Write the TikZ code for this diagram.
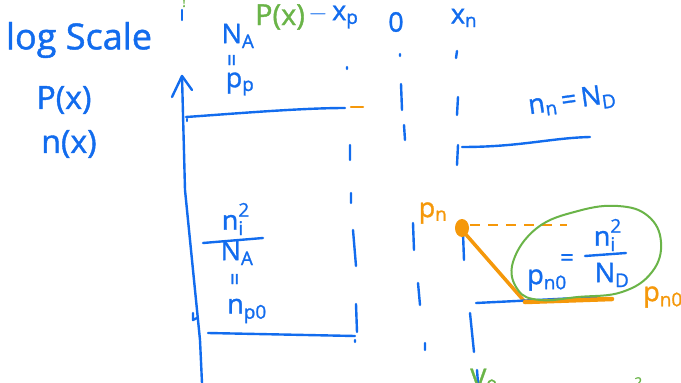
\documentclass[tikz,border=0pt]{standalone}
\usepackage{fontspec}
\setmainfont{Open Sans}[FakeBold=1.2, AutoFakeBold=1.2]
\usepackage{xcolor}
\usepackage{tikz}
\usetikzlibrary{positioning}
\definecolor{penblue}{RGB}{18,108,238}
\definecolor{penorange}{RGB}{245,152,10}
\definecolor{pengreen}{RGB}{106,180,72}
\tikzstyle{ink} = [draw=penblue, line width=2.4pt, line cap=round, line join=round]
\tikzstyle{orink} = [draw=penorange, line width=3.5pt, line cap=round]
\tikzstyle{greenink} = [draw=pengreen, line width=2pt, line cap=round]
\tikzstyle{bluetext} = [text=penblue, inner sep=0pt, font=\fontsize{27}{30}\bfseries]
\tikzstyle{orangetext} = [text=penorange, inner sep=0pt, font=\fontsize{27}{30}\bfseries]
\tikzstyle{greentext} = [text=pengreen, inner sep=0pt, font=\fontsize{27}{30}\bfseries]

\begin{document}
\begin{tikzpicture}[x=1pt, y=-1pt]
    \useasboundingbox (0,0) rectangle (681,383);
    \fill[white] (0,0) rectangle (681,383);

    % Left labels
    \node[bluetext, font=\fontsize{36}{40}\bfseries] (logscale) at (79,40) {log Scale};
    \node[bluetext, font=\fontsize{32}{36}\bfseries] (px) at (64,100) {P(x)};
    \node[bluetext, font=\fontsize{32}{36}\bfseries] (nx) at (69,144) {n(x)};

    % Top labels
    \node[greentext, font=\fontsize{14}{16}\bfseries] (topmark) at (184,2) {!};
    \node[bluetext] (na) at (238,36) {N\textsubscript{A}};
    \node[bluetext, rotate=90, font=\fontsize{22}{24}\bfseries] (eqtop) at (234,60) {=};
    \node[bluetext] (pp) at (240,84) {p\textsubscript{p}};
    \node[greentext, font=\fontsize{29}{32}\bfseries] (pofx) at (280,17) {P(x)};
    \node[bluetext, right=3pt of pofx] (xp) {$-$\,x\textsubscript{p}};
    \node[bluetext] (zero) at (396,22) {0};
    \node[bluetext] (xn) at (464,18) {x\textsubscript{n}};

    % Axis
    \draw[ink] (202,383) -- (200,340) -- (185,190) -- (182,76);
    \draw[ink] (172,97) -- (182,76) -- (192,90);
    \draw[ink] (182,10) -- (182,20);
    \draw[ink] (193,313) -- (193,320) -- (197,318);

    % p side level
    \draw[ink] (186,117) .. controls (230,114) and (300,108) .. (345,108);
    \draw[ink] (187,119) -- (187,121);
    \draw[ink] (208,333) -- (355,336);

    % Dashed guide lines
    \draw[ink] (347,67) -- (347,69) (350,145) -- (350,160) (351,193) -- (351,203)
        (353,230) -- (356,266) (356,304) -- (357,332) (355,340) -- (355,342);
    \draw[orink, line width=2.5pt] (351,107) -- (363,107);
    \draw[ink] (400,54) -- (400,56) (401,84) -- (402,110) (404,125) -- (405,140)
        (413,223) -- (414,250) (418,283) -- (420,305) (425,343) -- (425,350);
    \draw[ink] (457,51) -- (456,58) (458,97) -- (457,115) (458,145) -- (457,165)
        (463,233) -- (464,260) (470,313) -- (474,352) (477,370) -- (478,383);

    % n side level
    \draw[ink] (462,147) .. controls (520,147) and (550,138) .. (590,137);
    \node[bluetext, rotate=8] (nnnd) at (572,101) {n\textsubscript{n}\,=\,N\textsubscript{D}};

    % Minority carriers in p region
    \node[bluetext] (ni2a) at (235,219) {n\rlap{\raisebox{4pt}{\textsuperscript{2}}}\textsubscript{i}\,};
    \node[bluetext] (naa) at (237,253) {N\textsubscript{A}};
    \draw[ink] (203,243) -- (263,238);
    \node[bluetext, rotate=90, font=\fontsize{22}{24}\bfseries] (eqbot) at (237,279) {=};
    \node[bluetext] (np0) at (247,311) {n\textsubscript{p0}};

    % Minority carriers in n region
    \node[orangetext] (pnlabel) at (433,213) {p\textsubscript{n}};
    \fill[penorange] (462,228) ellipse (7 and 9);
    \draw[penorange, line width=2pt, dash pattern=on 10pt off 8pt] (470,225) -- (567,225);
    \draw[orink] (462,230) -- (525,302);
    \draw[ink] (476,303) -- (597,297);
    \draw[orink, line width=4.5pt] (525,302) -- (612,299);
    \node[orangetext] (pn0label) at (663,297) {p\textsubscript{n0}};

    % Highlighted relation
    \draw[greenink] plot[smooth cycle, tension=0.7] coordinates {(513,262) (537,228) (578,211)
        (618,206) (648,216) (661,242) (652,272) (622,292) (578,297) (540,300) (518,290)};
    \node[bluetext] (pn0) at (547,280) {p\textsubscript{n0}};
    \node[bluetext, font=\fontsize{24}{26}\bfseries] (eqmid) at (567,260) {=};
    \node[bluetext] (ni2d) at (607,235) {n\rlap{\raisebox{4pt}{\textsuperscript{2}}}\textsubscript{i}\,};
    \draw[ink] (585,256) -- (626,253);
    \node[bluetext] (ndd) at (612,275) {N\textsubscript{D}};

    % Cut off at the bottom
    \node[greentext] (vzero) at (484,381) {V\textsubscript{0}};
    \node[greentext, font=\fontsize{20}{22}\bfseries] (cutoff) at (634,386) {$\cdot$\,\textsuperscript{2}};
\end{tikzpicture}
\end{document}
